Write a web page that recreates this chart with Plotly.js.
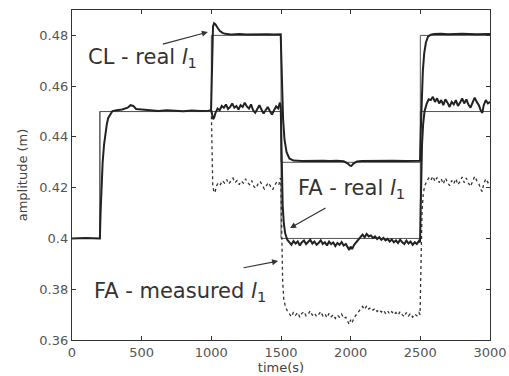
<!DOCTYPE html>
<html>
<head>
<meta charset="utf-8">
<script src="https://cdn.plot.ly/plotly-3.0.1.min.js"></script>
<style>html,body{margin:0;padding:0;background:#fff;}#chart{width:509px;height:376px;}</style>
</head>
<body>
<div id="chart"></div>
<script>
// Reference steps (thin lines)
const refCL = [[0,0.4],[200,0.4],[200,0.45],[1000,0.45],[1000,0.48],[1500,0.48],[1500,0.43],[2500,0.43],[2500,0.48],[3000,0.48]];
const refFA = [[0,0.4],[200,0.4],[200,0.45],[1500,0.45],[1500,0.40],[2500,0.40],[2500,0.45],[3000,0.45]];

// CL - real l1
const clReal = [[0,0.400],[100,0.4002],[195,0.400],[200,0.400],[205,0.410],[210,0.418],[215,0.425],[220,0.430],[230,0.437],[240,0.442],[250,0.445],[260,0.4475],[275,0.449],[290,0.4502],[320,0.4505],[360,0.4508],[400,0.4515],[420,0.4525],[440,0.4522],[460,0.451],[500,0.4508],[560,0.4505],[620,0.4502],[680,0.4505],[740,0.4503],[800,0.4501],[860,0.4504],[920,0.4502],[980,0.4503],[998,0.4505],
[1000,0.455],[1005,0.472],[1012,0.4835],[1020,0.4848],[1030,0.4843],[1045,0.483],[1060,0.4818],[1080,0.481],[1100,0.4806],[1150,0.4803],[1200,0.4805],[1250,0.4803],[1300,0.4804],[1350,0.4803],[1400,0.4804],[1450,0.4803],[1498,0.4804],
[1502,0.472],[1508,0.458],[1515,0.447],[1525,0.439],[1540,0.434],[1560,0.4315],[1590,0.4307],[1650,0.4305],[1700,0.4306],[1750,0.4305],[1800,0.4306],[1850,0.4305],[1900,0.4306],[1950,0.4304],[1980,0.4295],[1995,0.4287],[2005,0.4286],[2020,0.4295],[2045,0.4303],[2080,0.4305],[2150,0.4306],[2200,0.4305],[2300,0.4306],[2400,0.4305],[2498,0.4306],
[2503,0.442],[2510,0.455],[2518,0.466],[2528,0.473],[2540,0.4772],[2555,0.4795],[2575,0.4803],[2600,0.4805],[2650,0.4806],[2700,0.4804],[2800,0.4806],[2900,0.4804],[3000,0.4805]];

// FA - real l1
const faReal = [[1000,0.4505],[1005,0.4485],[1012,0.447],[1020,0.4475],[1030,0.4495],[1045,0.4512],[1060,0.4505],[1075,0.4522],[1090,0.4515],[1105,0.4528],[1120,0.451],[1135,0.4518],[1150,0.4532],[1165,0.4515],[1180,0.4522],[1195,0.4508],[1210,0.4525],[1225,0.4518],[1240,0.4535],[1255,0.452],[1270,0.4512],[1285,0.4528],[1300,0.4505],[1315,0.4495],[1330,0.4512],[1345,0.4525],[1360,0.4508],[1375,0.4492],[1390,0.4505],[1405,0.4518],[1420,0.4502],[1435,0.4488],[1450,0.4505],[1465,0.452],[1480,0.4512],[1492,0.4535],[1498,0.452],
[1502,0.44],[1506,0.425],[1512,0.413],[1520,0.406],[1530,0.402],[1545,0.3995],[1560,0.3985],[1575,0.3975],[1590,0.399],[1605,0.398],[1620,0.3988],[1635,0.3972],[1650,0.3985],[1665,0.3992],[1680,0.3978],[1695,0.3985],[1710,0.3995],[1725,0.398],[1740,0.3988],[1755,0.3975],[1770,0.3982],[1785,0.3993],[1800,0.3978],[1815,0.3985],[1830,0.3972],[1845,0.3988],[1860,0.3978],[1875,0.3984],[1890,0.397],[1905,0.3982],[1920,0.3975],[1935,0.3986],[1950,0.3972],[1965,0.3978],[1980,0.3962],[1990,0.3955],[2000,0.3968],[2010,0.3958],[2025,0.3975],[2040,0.3985],[2055,0.3995],[2070,0.4008],[2085,0.4015],[2100,0.4005],[2115,0.4018],[2130,0.4008],[2145,0.4012],[2160,0.4002],[2175,0.4008],[2190,0.3998],[2205,0.4005],[2220,0.3995],[2235,0.4002],[2250,0.3992],[2265,0.3998],[2280,0.3988],[2295,0.3996],[2310,0.3985],[2325,0.3992],[2340,0.3982],[2355,0.3995],[2370,0.3985],[2385,0.3978],[2400,0.3992],[2415,0.398],[2430,0.3988],[2445,0.3975],[2460,0.3985],[2475,0.3978],[2490,0.399],[2498,0.3985],
[2502,0.41],[2506,0.425],[2512,0.437],[2520,0.445],[2530,0.45],[2545,0.453],[2560,0.4548],[2575,0.4545],[2590,0.4558],[2605,0.4538],[2620,0.4552],[2635,0.4532],[2650,0.4545],[2665,0.4525],[2680,0.4548],[2695,0.4535],[2710,0.4518],[2725,0.4538],[2740,0.4528],[2755,0.4545],[2770,0.4522],[2785,0.4535],[2800,0.4552],[2815,0.4532],[2830,0.4548],[2845,0.4528],[2860,0.4515],[2875,0.4535],[2890,0.4555],[2905,0.4538],[2920,0.4525],[2935,0.4502],[2945,0.4495],[2955,0.4525],[2970,0.4545],[2985,0.4532],[3000,0.4538]];

// FA - measured l1
const faMeas = [[1000,0.4505],[1003,0.44],[1006,0.428],[1010,0.421],[1018,0.4185],[1026,0.418],[1035,0.4205],[1050,0.422],[1065,0.4212],[1080,0.4228],[1095,0.4218],[1110,0.4232],[1125,0.4215],[1140,0.4225],[1155,0.4238],[1170,0.422],[1185,0.4228],[1200,0.4212],[1215,0.4226],[1230,0.4218],[1245,0.4235],[1260,0.422],[1275,0.4212],[1290,0.4228],[1305,0.4205],[1320,0.4198],[1335,0.4215],[1350,0.4225],[1365,0.4208],[1380,0.4195],[1395,0.4208],[1410,0.422],[1425,0.4205],[1440,0.4192],[1455,0.421],[1470,0.4222],[1485,0.4212],[1495,0.4238],[1499,0.422],
[1502,0.41],[1506,0.395],[1512,0.383],[1520,0.376],[1530,0.3735],[1545,0.3715],[1560,0.3705],[1575,0.3692],[1590,0.371],[1605,0.3698],[1620,0.3708],[1635,0.369],[1650,0.3705],[1665,0.3712],[1680,0.3695],[1695,0.3702],[1710,0.3715],[1725,0.3698],[1740,0.3706],[1755,0.3692],[1770,0.37],[1785,0.3712],[1800,0.3695],[1815,0.3703],[1830,0.3688],[1845,0.3705],[1860,0.3692],[1875,0.37],[1890,0.3685],[1905,0.3698],[1920,0.369],[1935,0.3702],[1950,0.3685],[1965,0.369],[1980,0.3672],[1990,0.3662],[2000,0.368],[2010,0.3668],[2025,0.3688],[2040,0.37],[2055,0.3712],[2070,0.3725],[2085,0.3732],[2100,0.372],[2115,0.3735],[2130,0.3722],[2145,0.3728],[2160,0.3718],[2175,0.3725],[2190,0.3712],[2205,0.372],[2220,0.371],[2235,0.3718],[2250,0.3705],[2265,0.3715],[2280,0.3702],[2295,0.3712],[2310,0.37],[2325,0.3708],[2340,0.3698],[2355,0.3712],[2370,0.37],[2385,0.3692],[2400,0.3708],[2415,0.3695],[2430,0.3705],[2445,0.369],[2460,0.3702],[2475,0.3695],[2490,0.3708],[2498,0.37],
[2502,0.382],[2506,0.397],[2512,0.41],[2520,0.417],[2530,0.4205],[2545,0.4225],[2560,0.4238],[2575,0.4228],[2590,0.4245],[2605,0.4225],[2620,0.424],[2635,0.422],[2650,0.4235],[2665,0.4215],[2680,0.4238],[2695,0.4222],[2710,0.4208],[2725,0.4228],[2740,0.4215],[2755,0.4235],[2770,0.4212],[2785,0.4225],[2800,0.4242],[2815,0.422],[2830,0.4238],[2845,0.4218],[2860,0.4205],[2875,0.4225],[2890,0.4245],[2905,0.4228],[2920,0.4215],[2935,0.4192],[2945,0.4185],[2955,0.4215],[2970,0.4235],[2985,0.422],[3000,0.4228]];

const xTicks = [0,500,1000,1500,2000,2500,3000];
const yTicks = [0.36,0.38,0.4,0.42,0.44,0.46,0.48];
const yTickText = ['0.36','0.38','0.4','0.42','0.44','0.46','0.48'];

const xs = d => d.map(p => p[0]);
const ys = d => d.map(p => p[1]);

const traces = [
  {x: xs(refCL), y: ys(refCL), mode:'lines', line:{color:'#555', width:1}, hoverinfo:'skip'},
  {x: xs(refFA), y: ys(refFA), mode:'lines', line:{color:'#555', width:1}, hoverinfo:'skip'},
  {x: xs(faMeas), y: ys(faMeas), mode:'lines', line:{color:'#333', width:1.3, dash:'dot'}},
  {x: xs(faReal), y: ys(faReal), mode:'lines', line:{color:'#222', width:2}},
  {x: xs(clReal), y: ys(clReal), mode:'lines', line:{color:'#222', width:2}}
];

const FAM = '"DejaVu Sans", Arial, sans-serif';
const lblFont = {family:FAM, size:21, color:'#333'};
const pad = '\u00a0\u00a0\u00a0\u00a0\u00a0\u00a0';

const layout = {
  width:509, height:376,
  margin:{l:72, r:19, t:10, b:36},
  paper_bgcolor:'#fff', plot_bgcolor:'#fff',
  showlegend:false,
  font:{family:FAM, color:'#333'},
  xaxis:{range:[0,3000], tickvals:xTicks, ticktext:xTicks.map(String), ticks:'inside', ticklen:4, tickcolor:'#333',
    showline:true, linecolor:'#333', linewidth:1.2, mirror:'ticks', showgrid:false, zeroline:false,
    tickfont:{family:FAM, size:13, color:'#555'},
    title:{text:'time(s)', font:{family:FAM, size:13, color:'#444'}, standoff:0}},
  yaxis:{range:[0.36,0.49], tickvals:yTicks, ticktext:yTickText, ticks:'inside', ticklen:4, tickcolor:'#333',
    showline:true, linecolor:'#333', linewidth:1.2, mirror:'ticks', showgrid:false, zeroline:false,
    tickfont:{family:FAM, size:13, color:'#555'},
    title:{text:'amplitude (m)', font:{family:FAM, size:13, color:'#444'}, standoff:8}},
  annotations:[
    {x:975, y:0.4813, xref:'x', yref:'y', axref:'pixel', ayref:'pixel', ax:-45, ay:12, xanchor:'center', yanchor:'top', borderpad:0,
     text:'CL - real <i>l</i><sub>1</sub>' + pad, font:lblFont, showarrow:true, arrowhead:2, arrowsize:1, arrowwidth:1.2, arrowcolor:'#333', standoff:0, startstandoff:0},
    {x:1565, y:0.4041, xref:'x', yref:'y', axref:'pixel', ayref:'pixel', ax:37, ay:-21, text:'', showarrow:true, arrowhead:2, arrowsize:1, arrowwidth:1.2, arrowcolor:'#333'},
    {x:2003, y:0.4195, xref:'x', yref:'y', text:'FA - real <i>l</i><sub>1</sub>', showarrow:false, font:lblFont, xanchor:'center', yanchor:'middle'},
    {x:1479, y:0.3911, xref:'x', yref:'y', axref:'pixel', ayref:'pixel', ax:-36, ay:7, text:'', showarrow:true, arrowhead:2, arrowsize:1, arrowwidth:1.2, arrowcolor:'#333'},
    {x:775, y:0.3789, xref:'x', yref:'y', text:'FA - measured <i>l</i><sub>1</sub>', showarrow:false, font:lblFont, xanchor:'center', yanchor:'middle'}
  ]
};

Plotly.newPlot('chart', traces, layout, {staticPlot:true, displayModeBar:false});
</script>
</body>
</html>
